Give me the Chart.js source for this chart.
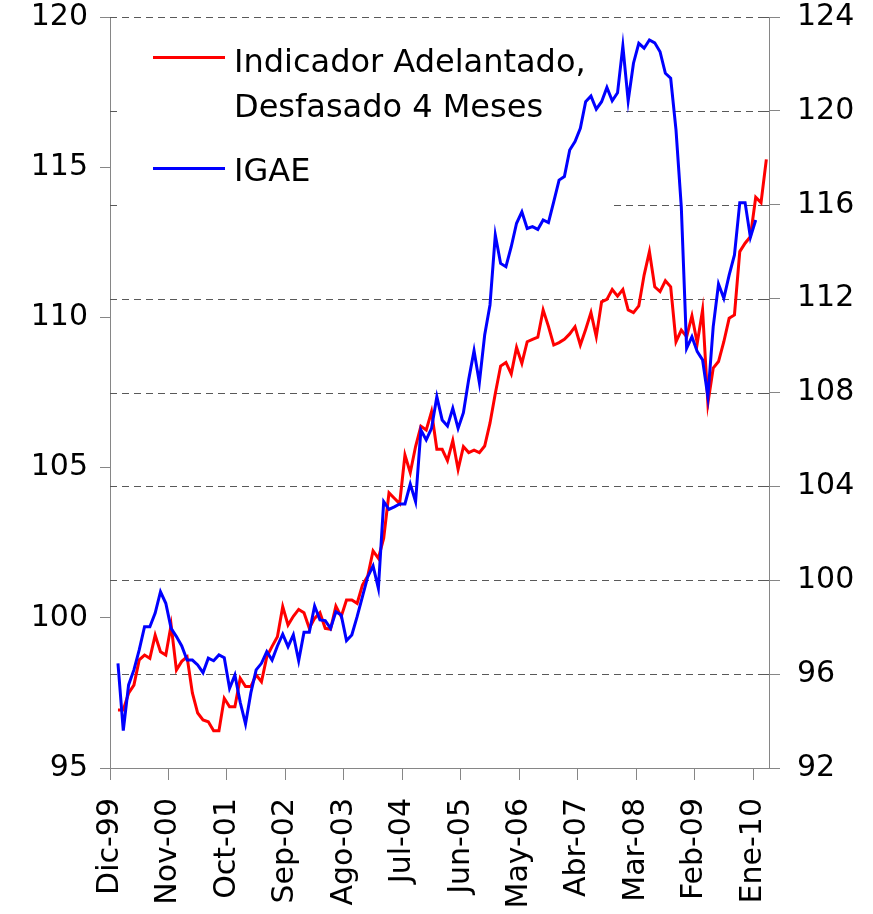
<!DOCTYPE html>
<html>
<head>
<meta charset="utf-8">
<script src="https://cdn.jsdelivr.net/npm/chart.js@4.4.0/dist/chart.umd.min.js"></script>
<style>
  body { margin: 0; background: #fff; }
  #wrap { width: 873px; height: 914px; }
</style>
</head>
<body>
<div id="wrap"><canvas id="grafica"></canvas></div>
<script>
// ---------- datos ----------
// meses desde Dic-99 hasta Mar-10 (124 meses)
const nombresMes = ['Ene','Feb','Mar','Abr','May','Jun','Jul','Ago','Sep','Oct','Nov','Dic'];
const meses = [];
for (let i = 0; i < 124; i++) {
  const m = (11 + i) % 12;
  const a = (1999 + Math.floor((11 + i) / 12)) % 100;
  meses.push(nombresMes[m] + '-' + String(a).padStart(2, '0'));
}
// posiciones de las etiquetas del eje x (cada 11 meses)
const marcasX = [0, 11, 22, 33, 44, 55, 66, 77, 88, 99, 110, 121];
const marcasIzq = [95, 100, 105, 110, 115, 120];
const marcasDer = [92, 96, 100, 104, 108, 112, 116, 120, 124];

// Indicador Adelantado, desfasado 4 meses (eje izquierdo)
const indicador = [null,
  96.93, 96.93, 97.49, 97.76, 98.6, 98.76, 98.65, 99.42, 98.87, 98.76,
  99.76, 98.26, 98.55, 98.7, 97.5, 96.83, 96.6, 96.54, 96.24, 96.24,
  97.32, 97.04, 97.04, 97.99, 97.71, 97.71, 98.1, 97.87, 98.7, 99.05,
  99.37, 100.37, 99.76, 100.05, 100.28, 100.17, 99.65, 99.98, 100.17, 99.65,
  99.62, 100.39, 100.04, 100.59, 100.59, 100.48, 101.09, 101.39, 102.23, 101.98,
  102.65, 104.16, 103.98, 103.8, 105.42, 104.83, 105.7, 106.38, 106.25, 106.86,
  105.61, 105.61, 105.23, 105.9, 104.94, 105.7, 105.5, 105.58, 105.5, 105.72,
  106.48, 107.47, 108.38, 108.5, 108.12, 109.0, 108.47, 109.19, 109.27, 109.34,
  110.25, 109.7, 109.08, 109.16, 109.27, 109.45, 109.69, 109.08, 109.6, 110.16,
  109.36, 110.52, 110.6, 110.93, 110.71, 110.93, 110.25, 110.16, 110.38, 111.41,
  112.19, 111.02, 110.86, 111.22, 111.02, 109.19, 109.58, 109.36, 110.05, 109.14,
  110.25, 107.14, 108.31, 108.53, 109.19, 109.97, 110.08, 112.19, 112.47, 112.69,
  114.0, 113.82, 115.26
];

// IGAE (eje derecho)
const igae = [null,
  96.46, 93.59, 95.54, 96.18, 97.03, 98.02, 98.02, 98.6, 99.51, 99.02,
  97.95, 97.6, 97.2, 96.6, 96.6, 96.39, 96.06, 96.68, 96.57, 96.82,
  96.7, 95.4, 95.96, 94.8, 93.88, 95.2, 96.18, 96.46, 96.96, 96.6,
  97.2, 97.7, 97.17, 97.67, 96.57, 97.78, 97.78, 98.9, 98.31, 98.28,
  97.95, 98.66, 98.52, 97.43, 97.67, 98.45, 99.3, 100.15, 100.61, 99.66,
  103.35, 103.02, 103.13, 103.25, 103.25, 104.1, 103.35, 106.4, 105.98, 106.47,
  107.82, 106.83, 106.57, 107.33, 106.47, 107.14, 108.56, 109.78, 108.42, 110.45,
  111.73, 114.71, 113.5, 113.36, 114.21, 115.21, 115.7, 114.99, 115.07, 114.95,
  115.35, 115.24, 116.13, 117.05, 117.2, 118.33, 118.69, 119.26, 120.39, 120.63,
  120.07, 120.39, 121.0, 120.43, 120.77, 122.76, 120.43, 122.03, 122.88, 122.67,
  123.02, 122.9, 122.52, 121.6, 121.39, 119.19, 115.9, 109.88, 110.38, 109.74,
  109.39, 107.82, 110.8, 112.62, 112.01, 113.0, 113.86, 116.09, 116.09, 114.61,
  115.35
];

// ---------- estilos ----------
const fuente = { family: 'DejaVu Sans', size: 30, lineHeight: 1.1 };
const gris = '#868686';

// cada valor se centra en su mes
const puntos = arr => arr.map((v, i) => ({ x: i + 0.5, y: v }));

// sin relleno extra de las etiquetas: el area del grafico queda fija
const sinRelleno = s => { s.paddingTop = 0; s.paddingBottom = 0; s.paddingLeft = 0; s.paddingRight = 0; };

// cuadricula punteada, fondo de la leyenda y leyenda
const extras = {
  id: 'extras',
  beforeDatasetsDraw(chart) {
    const ctx = chart.ctx;
    const a = chart.chartArea;
    const yR = chart.scales.yR;
    ctx.save();
    ctx.strokeStyle = '#595959';
    ctx.lineWidth = 1;
    marcasDer.forEach(v => {
      if (v === 92) return;
      const y = Math.round(yR.getPixelForValue(v)) + 0.5;
      ctx.setLineDash([7, 5]);
      ctx.beginPath();
      ctx.moveTo(a.left, y);
      ctx.lineTo(a.right - 9, y);
      ctx.stroke();
      ctx.setLineDash([]);
      ctx.beginPath();
      ctx.moveTo(a.right - 9, y);
      ctx.lineTo(a.right, y);
      ctx.stroke();
    });
    // caja blanca de la leyenda (tapa la cuadricula)
    ctx.fillStyle = '#fff';
    ctx.fillRect(117, 30, 497, 190);
    ctx.restore();
  },
  afterDatasetsDraw(chart) {
    const ctx = chart.ctx;
    ctx.save();
    ctx.lineWidth = 3;
    ctx.strokeStyle = '#ff0000';
    ctx.beginPath(); ctx.moveTo(153, 57.5); ctx.lineTo(225, 57.5); ctx.stroke();
    ctx.strokeStyle = '#0000ff';
    ctx.beginPath(); ctx.moveTo(153, 168.5); ctx.lineTo(225, 168.5); ctx.stroke();
    ctx.fillStyle = '#000';
    ctx.font = '32px "DejaVu Sans"';
    ctx.textBaseline = 'alphabetic';
    ctx.fillText('Indicador Adelantado,', 234, 72);
    ctx.fillText('Desfasado 4 Meses', 234, 117);
    ctx.fillText('IGAE', 234, 181);
    ctx.restore();
  }
};

const ctx = document.getElementById('grafica').getContext('2d');
const grafica = new Chart(ctx, {
  type: 'line',
  data: {
    datasets: [
      {
        label: 'IGAE',
        data: puntos(igae),
        yAxisID: 'yR',
        borderColor: '#0000ff',
        borderWidth: 3,
        pointRadius: 0,
        tension: 0,
        fill: false
      },
      {
        label: 'Indicador Adelantado, Desfasado 4 Meses',
        data: puntos(indicador),
        yAxisID: 'y',
        borderColor: '#ff0000',
        borderWidth: 3,
        pointRadius: 0,
        tension: 0,
        fill: false
      }
    ]
  },
  options: {
    responsive: true,
    maintainAspectRatio: false,
    animation: false,
    layout: { padding: { top: 17, left: 0, right: 0, bottom: 0 } },
    plugins: {
      legend: { display: false },
      tooltip: { enabled: false }
    },
    scales: {
      x: {
        type: 'linear',
        min: 0,
        max: 124,
        afterBuildTicks: s => { s.ticks = marcasX.map(v => ({ value: v })); },
        afterFit: s => { s.height = 146; sinRelleno(s); },
        ticks: {
          autoSkip: false,
          maxRotation: 90,
          minRotation: 90,
          padding: 18,
          color: '#000',
          font: fuente,
          callback: v => meses[v]
        },
        grid: { drawOnChartArea: false, drawTicks: true, tickLength: 12, color: gris },
        border: { color: gris, width: 1 }
      },
      y: {
        position: 'left',
        min: 95,
        max: 120,
        afterBuildTicks: s => { s.ticks = marcasIzq.map(v => ({ value: v })); },
        afterFit: s => { s.width = 110; sinRelleno(s); },
        ticks: { padding: 12, color: '#000', font: fuente },
        grid: { drawOnChartArea: false, tickLength: 10, color: gris },
        border: { color: gris, width: 1 }
      },
      yR: {
        position: 'right',
        min: 92,
        max: 124,
        afterBuildTicks: s => { s.ticks = marcasDer.map(v => ({ value: v })); },
        afterFit: s => { s.width = 104; sinRelleno(s); },
        ticks: { padding: 17, color: '#000', font: fuente },
        grid: { drawOnChartArea: false, tickLength: 11, color: gris },
        border: { color: gris, width: 1 }
      }
    }
  },
  plugins: [extras]
});
</script>
</body>
</html>
